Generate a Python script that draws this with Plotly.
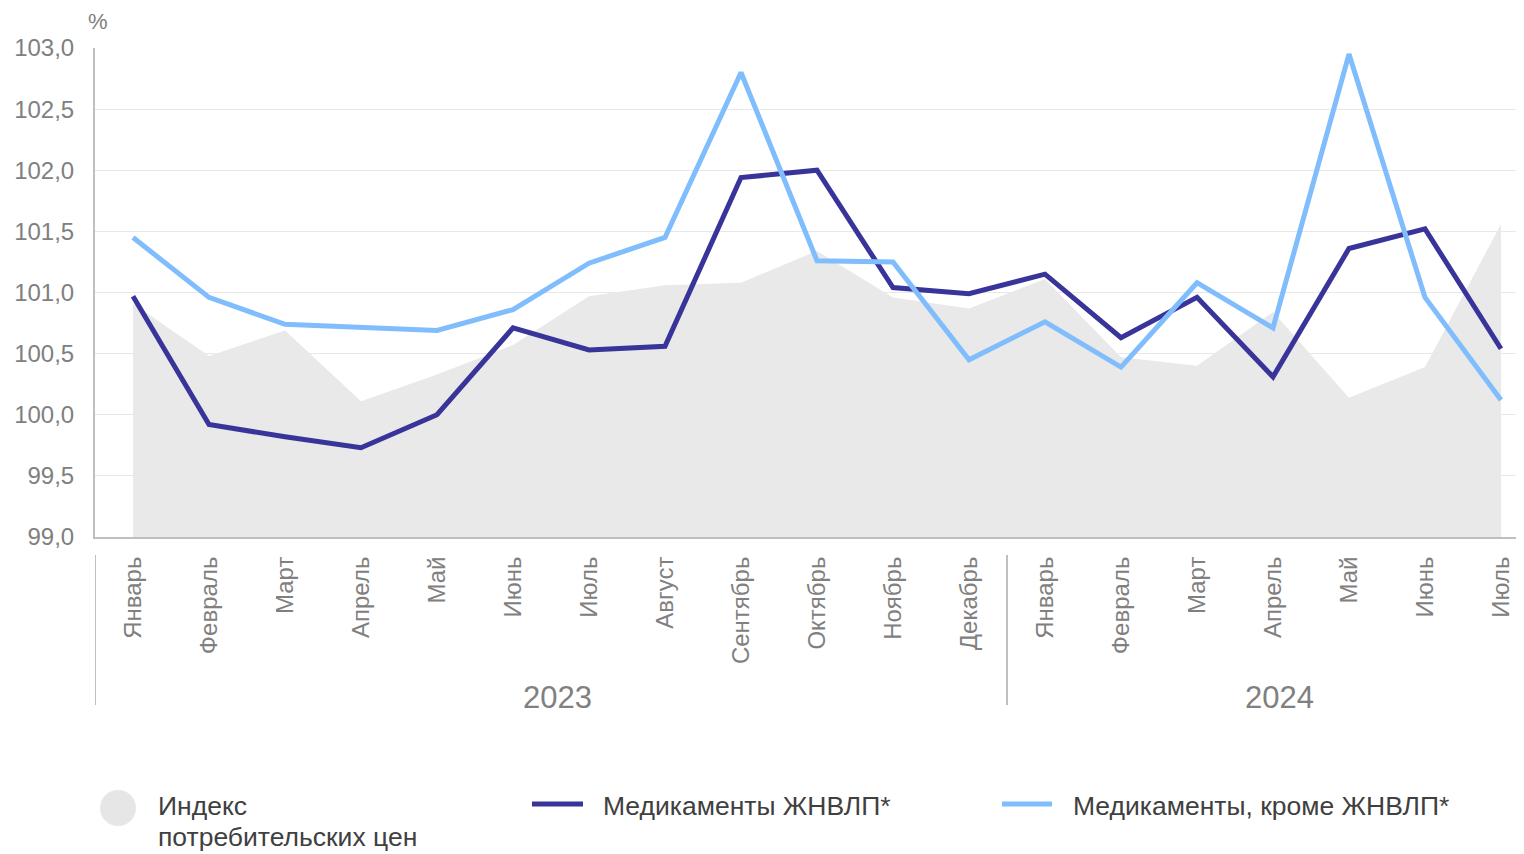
import plotly.graph_objects as go

months = ["Январь", "Февраль", "Март", "Апрель", "Май", "Июнь", "Июль", "Август",
          "Сентябрь", "Октябрь", "Ноябрь", "Декабрь",
          "Январь", "Февраль", "Март", "Апрель", "Май", "Июнь", "Июль"]
years = ["2023", "2024"]
year_month_counts = [12, 7]

cpi = [100.91, 100.48, 100.69, 100.11, 100.33, 100.57, 100.97, 101.06, 101.08, 101.34,
       100.96, 100.87, 101.11, 100.47, 100.40, 100.84, 100.14, 100.39, 101.56]
vital = [100.97, 99.92, 99.82, 99.73, 100.00, 100.71, 100.53, 100.56, 101.94, 102.00,
         101.04, 100.99, 101.15, 100.63, 100.96, 100.31, 101.36, 101.52, 100.54]
non_vital = [101.45, 100.96, 100.74, 100.71, 100.69, 100.86, 101.24, 101.45, 102.80, 101.26,
             101.25, 100.45, 100.76, 100.39, 101.08, 100.71, 102.95, 100.96, 100.12]

names = ["Индекс потребительских цен", "Медикаменты ЖНВЛП*", "Медикаменты, кроме ЖНВЛП*"]

C_AREA = "#E9E9E9"
C_DARK = "#38349A"
C_LIGHT = "#80BDFC"
C_AXIS = "#BFBFBF"
C_TICK = "#808080"
C_LEG = "#404040"
FONT = "Liberation Sans, Arial, sans-serif"

x = list(range(len(months)))

fig = go.Figure()
fig.add_trace(go.Scatter(x=x, y=cpi, name=names[0], mode="lines", fill="tozeroy",
                         fillcolor=C_AREA, line=dict(width=0, color=C_AREA)))
fig.add_trace(go.Scatter(x=x, y=vital, name=names[1], mode="lines",
                         line=dict(width=5, color=C_DARK)))
fig.add_trace(go.Scatter(x=x, y=non_vital, name=names[2], mode="lines",
                         line=dict(width=5, color=C_LIGHT)))

# page has an 8px body margin: figure occupies screen pixels 8..1524 / 8..854
OFF = 8
W, H = 1524 - OFF, 854 - OFF
L, T = 95 - OFF, 48 - OFF
PB = 537 - OFF  # plot bottom in figure px
R, B = 0, H - PB
pw, ph = W - L - R, PB - T

def px(xs):  # screen px -> paper x
    return (xs - OFF - L) / pw

def py(ys):  # screen px -> paper y
    return (PB - (ys - OFF)) / ph

fig.update_layout(
    width=W, height=H,
    margin=dict(l=L, r=R, t=T, b=B, pad=0),
    paper_bgcolor="white", plot_bgcolor="white",
    showlegend=False,
    separators=", ",
    font=dict(family=FONT, size=24, color=C_TICK),
    xaxis=dict(
        range=[-0.5, pw / 76.0 - 0.5],
        tickmode="array", tickvals=x, ticktext=months,
        tickangle=-90, showgrid=False, zeroline=False,
        showline=True, linecolor=C_AXIS, linewidth=2,
        ticks="", ticklabelstandoff=8,
        tickfont=dict(size=24, color=C_TICK, family=FONT),
    ),
    yaxis=dict(
        range=[99, 103], dtick=0.5, tick0=99, tickformat=".1f",
        showgrid=True, gridcolor="#E8E8E8", gridwidth=1, zeroline=False,
        showline=True, linecolor=C_AXIS, linewidth=2,
        ticks="", ticklabelstandoff=14,
        tickfont=dict(size=24, color=C_TICK, family=FONT),
    ),
)

shapes = []
annotations = []

# year group separators and labels
start = 0
for yr, cnt in zip(years, year_month_counts):
    shapes.append(dict(type="line", xref="x", yref="paper",
                       x0=start - 0.5, x1=start - 0.5, y0=py(555), y1=py(705),
                       line=dict(color=C_AXIS, width=2)))
    annotations.append(dict(text=yr, xref="x", yref="paper", x=start + (cnt - 1) / 2,
                            y=py(697), xanchor="center", yanchor="middle", showarrow=False,
                            xshift=6, font=dict(size=31, color=C_TICK, family=FONT)))
    start += cnt

annotations.append(dict(text="%", xref="paper", yref="paper", x=px(98), y=py(21),
                        xanchor="center", yanchor="middle", showarrow=False,
                        font=dict(size=22, color=C_TICK, family=FONT)))

# manual legend
shapes.append(dict(type="circle", xref="paper", yref="paper",
                   x0=px(100), x1=px(136), y0=py(790), y1=py(826),
                   fillcolor="#E6E6E6", line=dict(width=0)))
shapes.append(dict(type="line", xref="paper", yref="paper",
                   x0=px(532), x1=px(583), y0=py(804), y1=py(804),
                   line=dict(color=C_DARK, width=5)))
shapes.append(dict(type="line", xref="paper", yref="paper",
                   x0=px(1002), x1=px(1052), y0=py(804), y1=py(804),
                   line=dict(color=C_LIGHT, width=5)))

leg_font = dict(size=26.5, color=C_LEG, family=FONT)
annotations.append(dict(text="Индекс", xref="paper", yref="paper", x=px(156), y=py(806),
                        xanchor="left", yanchor="middle", showarrow=False, font=leg_font))
annotations.append(dict(text="потребительских цен", xref="paper", yref="paper", x=px(156), y=py(854),
                        xanchor="left", yanchor="bottom", showarrow=False, font=leg_font))
annotations.append(dict(text=names[1], xref="paper", yref="paper", x=px(601), y=py(806),
                        xanchor="left", yanchor="middle", showarrow=False, font=leg_font))
annotations.append(dict(text=names[2], xref="paper", yref="paper", x=px(1071), y=py(806),
                        xanchor="left", yanchor="middle", showarrow=False, font=leg_font))

fig.update_layout(shapes=shapes, annotations=annotations)

fig.write_html("out.html")
